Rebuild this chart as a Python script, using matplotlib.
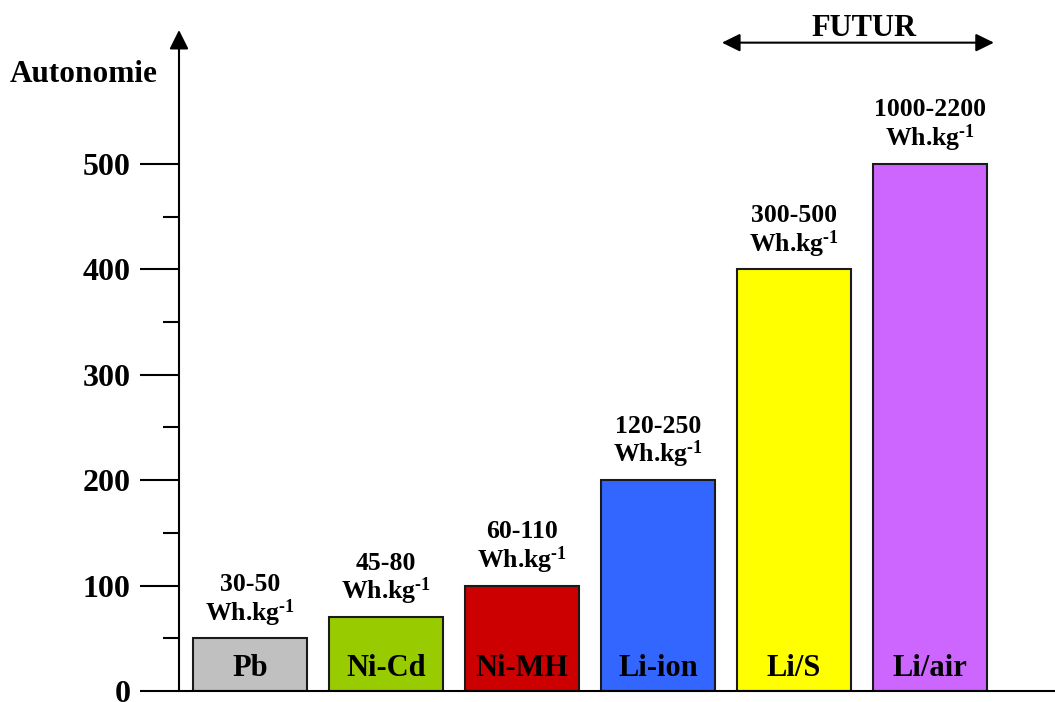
import numpy as np
import matplotlib.pyplot as plt
from matplotlib.ticker import FixedLocator

plt.rcParams['font.family'] = ['Liberation Serif', 'DejaVu Serif']
plt.rcParams['font.weight'] = 'bold'
plt.rcParams['mathtext.fontset'] = 'custom'
plt.rcParams['mathtext.rm'] = 'Liberation Serif:bold'
plt.rcParams['mathtext.it'] = 'Liberation Serif:bold'
plt.rcParams['mathtext.bf'] = 'Liberation Serif:bold'

# data
batteries = ['Pb', 'Ni-Cd', 'Ni-MH', 'Li-ion', 'Li/S', 'Li/air']
autonomie = [50, 70, 100, 200, 400, 500]
energie = ['30-50', '45-80', '60-110', '120-250', '300-500', '1000-2200']
couleurs = ['#C0C0C0', '#99CC00', '#CC0000', '#3366FF', '#FFFF00', '#CC66FF']
futur = ['Li/S', 'Li/air']

W, H = 1055, 702
fig = plt.figure(figsize=(W / 100, H / 100), dpi=100)
# axes placed in pixels : y axis at x=179, baseline at y=691 (from top)
ax = fig.add_axes([179 / W, 11 / H, 876 / W, 661 / H])

x = np.arange(len(batteries))
ax.bar(x, autonomie, width=0.838, color=couleurs, edgecolor='#1a1a1a', linewidth=1.5, zorder=2)
ax.set_xlim(-0.522, 5.919)
ax.set_ylim(0, 627)

for xi, h, nom, e in zip(x, autonomie, batteries, energie):
    ax.text(xi, 21, nom, ha='center', va='center', fontsize=22, fontweight='bold', zorder=3)
    ax.annotate(e + '\nWh.kg$^{\\text{-1}}$', (xi, h), xytext=(0, 7), textcoords='offset points',
                ha='center', va='bottom', fontsize=18.5, fontweight='bold', linespacing=1.05)

# axes look
for s in ['top', 'right', 'left']:
    ax.spines[s].set_visible(False)
ax.spines['bottom'].set_linewidth(1.5)
ax.set_xticks([])
ax.set_yticks([0, 100, 200, 300, 400, 500])
ax.yaxis.set_minor_locator(FixedLocator([50, 150, 250, 350, 450]))
ax.tick_params(axis='y', which='major', length=28, width=1.5, pad=7, labelsize=23)
ax.tick_params(axis='y', which='minor', length=11.5, width=1.5)
for lab in ax.get_yticklabels():
    lab.set_fontweight('bold')

# y axis with arrow
ax.annotate('', xy=(-0.522, 627), xytext=(-0.522, 0), xycoords='data',
            arrowprops=dict(arrowstyle='-|>,head_length=0.58,head_width=0.29',
                            mutation_scale=20, lw=1.5, color='black', shrinkA=0, shrinkB=0),
            annotation_clip=False)

fig.text(84 / W, 1 - 75 / H, 'Autonomie', ha='center', va='center', fontsize=22.5, fontweight='bold')

# FUTUR arrow over Li/S and Li/air
i0 = batteries.index(futur[0])
i1 = batteries.index(futur[-1])
ax.annotate('', xy=(i1 + 0.47, 615), xytext=(i0 - 0.53, 615),
            arrowprops=dict(arrowstyle='<|-|>,head_length=0.55,head_width=0.27',
                            mutation_scale=20, lw=1.5, color='black', shrinkA=0, shrinkB=0),
            annotation_clip=False)
ax.text((i0 + i1) / 2 + 0.015, 628, 'FUTUR', ha='center', va='center', fontsize=22,
        fontweight='bold', clip_on=False)

fig.savefig('out.png', dpi=100)
